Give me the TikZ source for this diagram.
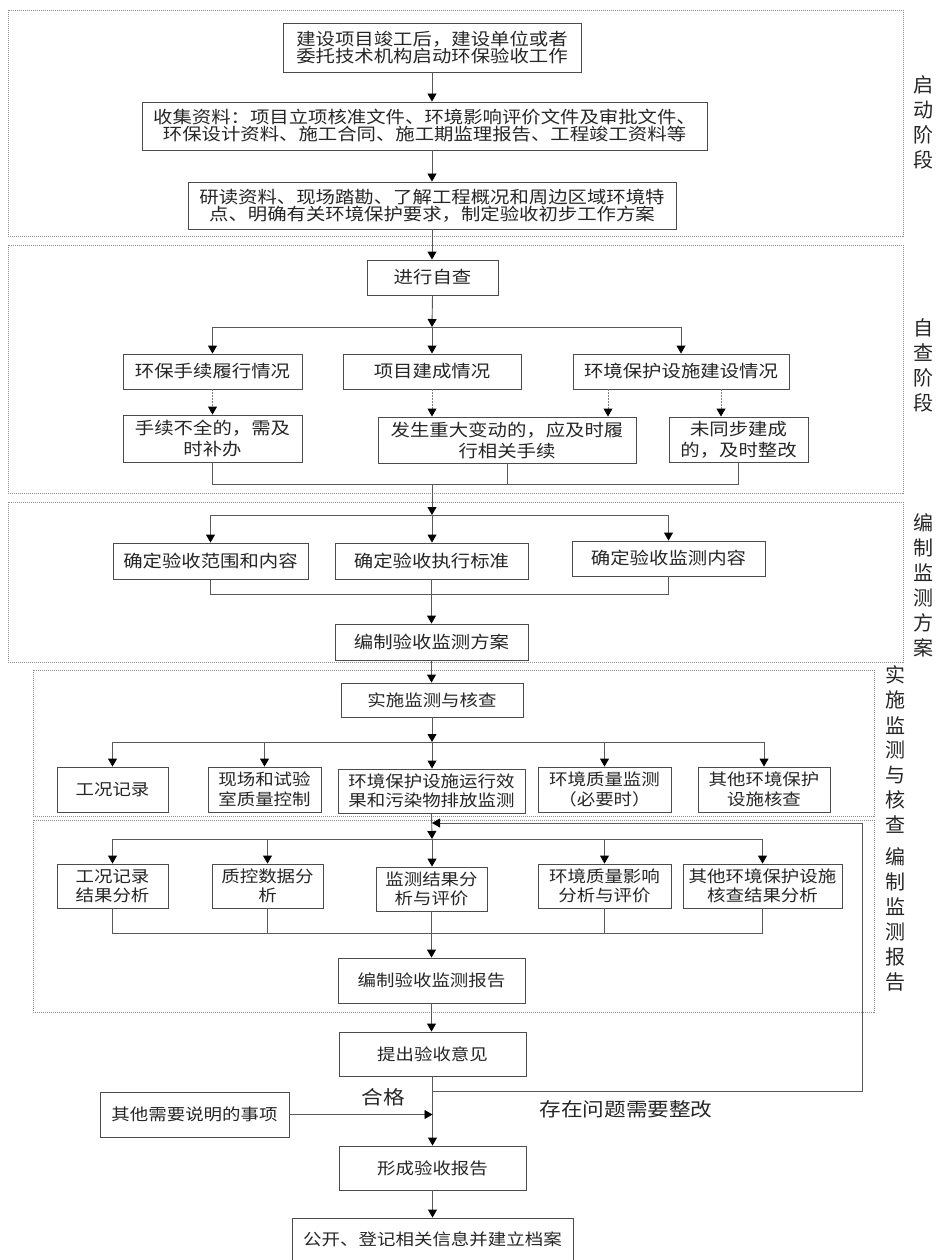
\documentclass[tikz,border=0pt]{standalone}
\usepackage{fontspec}
\newfontfamily\cjk{Noto Sans CJK SC}
\newfontfamily\cjkw[FakeStretch=1.14]{Noto Sans CJK SC}
\usetikzlibrary{arrows.meta,calc}
\tikzset{
  box/.style={draw=black!70, line width=0.9pt, fill=white, inner sep=0pt, align=center, text=black!85},
  fa/.style={font=\cjkw\fontsize{17}{17}\selectfont},
  fb/.style={font=\cjkw\fontsize{17}{21}\selectfont},
  fc/.style={font=\cjkw\fontsize{16.2}{19.5}\selectfont},
  conn/.style={draw=black!65, line width=0.9pt},
  arr/.style={conn, -{Triangle[length=8pt,width=9pt,color=black]}},
  darr/.style={draw=black!50, line width=0.9pt, dash pattern=on 1.5pt off 1.5pt, -{Triangle[length=8pt,width=9pt,color=black]}},
  sect/.style={draw=black!45, line width=0.7pt, dash pattern=on 1pt off 1pt},
  lab/.style={font=\cjk\fontsize{20}{25}\selectfont, align=center, text=black!85, inner sep=0pt},
  lbl/.style={font=\cjkw\fontsize{19}{19}\selectfont, text=black!85, inner sep=0pt}
}
\newcommand\bx[7]{\node[box,#6,minimum width={#4pt-#2pt},minimum height={#5pt-#3pt}] (#1) at ({(#2+#4)/2},{(#3+#5)/2}) {#7};}
\begin{document}
\begin{tikzpicture}[x=1pt,y=-1pt]
\useasboundingbox (0,0) rectangle (938,1260);
% sections
\draw[sect] (8,10) rectangle (903,236);
\draw[sect] (8,245) rectangle (903,493);
\draw[sect] (8,502) rectangle (903,662);
\draw[sect] (33,670) rectangle (874,816);
\draw[sect] (33,820) rectangle (874,1012);
\node[lab] (s1) at (923,122) {启\\动\\阶\\段};
\node[lab] (s2) at (923,365) {自\\查\\阶\\段};
\node[lab] (s3) at (923,585) {编\\制\\监\\测\\方\\案};
\node[lab] (s4) at (895,750) {实\\施\\监\\测\\与\\核\\查};
\node[lab] (s5) at (895,919) {编\\制\\监\\测\\报\\告};
% start stage
\bx{A1}{283}{23}{581}{72}{fa}{建设项目竣工后，建设单位或者\\委托技术机构启动环保验收工作}
\bx{A2}{142}{102}{707}{150}{fa}{收集资料：项目立项核准文件、环境影响评价文件及审批文件、\\环保设计资料、施工合同、施工期监理报告、工程竣工资料等}
\bx{A3}{188}{182}{676}{229}{fa}{研读资料、现场踏勘、了解工程概况和周边区域环境特\\点、明确有关环境保护要求，制定验收初步工作方案}
% self check
\bx{B1}{367}{260}{498}{295}{fb}{进行自查}
\bx{B2a}{123}{354}{302}{389}{fb}{环保手续履行情况}
\bx{B2b}{343}{354}{521}{389}{fb}{项目建成情况}
\bx{B2c}{573}{354}{789}{389}{fb}{环境保护设施建设情况}
\bx{B3a}{123}{415}{302}{462}{fb}{手续不全的，需及\\时补办}
\bx{B3b}{378}{417}{636}{463}{fb}{发生重大变动的，应及时履\\行相关手续}
\bx{B3c}{669}{417}{808}{462}{fb}{未同步建成\\的，及时整改}
% plan
\bx{C1}{113}{543}{308}{579}{fb}{确定验收范围和内容}
\bx{C2}{335}{543}{528}{579}{fb}{确定验收执行标准}
\bx{C3}{572}{541}{765}{576}{fb}{确定验收监测内容}
\bx{C4}{335}{624}{528}{660}{fb}{编制验收监测方案}
% monitoring
\bx{D1}{341}{683}{523}{717}{fc}{实施监测与核查}
\bx{D2a}{57}{767}{168}{812}{fc}{工况记录}
\bx{D2b}{208}{767}{321}{812}{fc}{现场和试验\\室质量控制}
\bx{D2c}{338}{769}{525}{813}{fc}{环境保护设施运行效\\果和污染物排放监测}
\bx{D2d}{538}{767}{671}{812}{fc}{环境质量监测\\（必要时）}
\bx{D2e}{698}{767}{830}{812}{fc}{其他环境保护\\设施核查}
% report
\bx{E1}{57}{864}{168}{908}{fc}{工况记录\\结果分析}
\bx{E2}{212}{864}{323}{908}{fc}{质控数据分\\析}
\bx{E3}{376}{867}{487}{911}{fc}{监测结果分\\析与评价}
\bx{E4}{538}{864}{671}{908}{fc}{环境质量影响\\分析与评价}
\bx{E5}{683}{864}{842}{908}{fc}{其他环境保护设施\\核查结果分析}
\bx{E6}{338}{958}{525}{1003}{fc}{编制验收监测报告}
% final
\bx{F1}{339}{1032}{526}{1076}{fc}{提出验收意见}
\bx{F2}{100}{1092}{289}{1137}{fc}{其他需要说明的事项}
\bx{F3}{339}{1146}{526}{1190}{fc}{形成验收报告}
\bx{F4}{292}{1218}{573}{1261}{fc}{公开、登记相关信息并建立档案}
\node[lbl] (ok) at (383,1097) {合格};
\node[lbl] (bad) at (626,1109) {存在问题需要整改};
% junction coordinates
\coordinate (j1) at (432,327);
\coordinate (m2) at (432,484);
\coordinate (j3) at (432,515);
\coordinate (m3) at (432,594);
\coordinate (j4) at (432,742);
\coordinate (j5) at (432,839);
\coordinate (m5) at (432,933);
\coordinate (fb) at (432.5,1091);
\coordinate (fbr) at (862,1091);
\coordinate (fbt) at (862,823);
\coordinate (fbe) at (432,823);
% connectors stage 1
\draw[arr] (A1.south) -- (A1.south |- A2.north);
\draw[arr] (A3.north |- A2.south) -- (A3.north);
\draw[arr] (A3.south) -- (A3.south |- B1.north);
% stage 2
\draw[arr] (B1.south) -- (j1);
\draw[arr] (j1) -| (B2a.north);
\draw[arr] (j1) -| (B2c.north);
\draw[arr] (j1) -- (j1 |- B2b.north);
\coordinate (d3) at ([xshift=-73pt]B2c.south);
\coordinate (d4) at ([xshift=40pt]B2c.south);
\draw[darr] (B2a.south) -- (B3a.north);
\draw[darr] (B2b.south) -- (B2b.south |- B3b.north);
\draw[darr] (d3) -- (d3 |- B3b.north);
\draw[darr] (d4) -- (d4 |- B3c.north);
\draw[conn] (B3a.south) |- (B3c.south |- m2) -- (B3c.south);
\draw[conn] (B3b.south) -- (B3b.south |- m2);
\draw[arr] (m2) -- (j3);
% stage 3
\draw[arr] (j3) -| (C1.north);
\draw[arr] (j3) -| (C3.north);
\draw[arr] (j3) -- (j3 |- C2.north);
\draw[conn] (C1.south) |- (C3.south |- m3) -- (C3.south);
\draw[arr] (C2.south) -- (C4.north);
% stage 4
\draw[arr] (C4.south) -- (C4.south |- D1.north);
\draw[arr] (D1.south) -- (j4);
\draw[arr] (j4) -| (D2a.north);
\draw[arr] (j4) -| (D2b.north);
\draw[arr] (j4) -- (j4 |- D2c.north);
\draw[arr] (j4) -| (D2d.north);
\draw[arr] (j4) -| (D2e.north);
% stage 5
\draw[arr] (D2c.south) -- (j5);
\draw[arr] (j5) -| (E1.north);
\draw[arr] (j5) -| (E2.north);
\draw[arr] (j5) -- (j5 |- E3.north);
\draw[arr] (j5) -| (E4.north);
\draw[arr] (j5) -| (E5.north);
\draw[conn] (E1.south) |- (E5.south |- m5) -- (E5.south);
\draw[conn] (E2.south) -- (E2.south |- m5);
\draw[conn] (E4.south) -- (E4.south |- m5);
\draw[arr] (E3.south) -- (E3.south |- E6.north);
% final
\draw[arr] (E6.south) -- (E6.south |- F1.north);
\draw[arr] (F1.south) -- (F1.south |- F3.north);
\draw[arr] (fb) -- (fbr) -- (fbt) -- (fbe);
\draw[arr] (F2.east) -- (F2.east -| F1.south);
\draw[arr] (F3.south) -- (F3.south |- F4.north);
\end{tikzpicture}
\end{document}
